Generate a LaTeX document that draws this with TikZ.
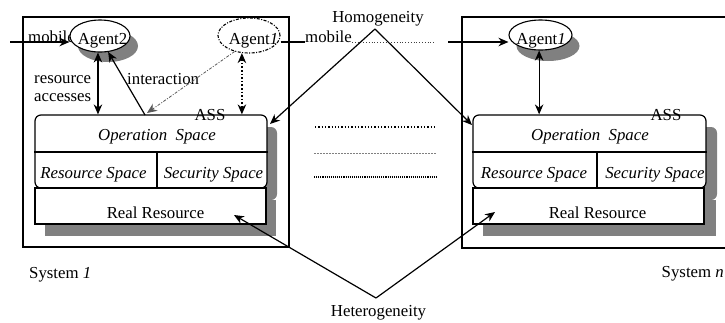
\documentclass[tikz,border=0pt]{standalone}
\usepackage{fontspec}
\setmainfont{Liberation Serif}
\usetikzlibrary{arrows.meta,shapes.geometric}

\begin{document}
\begin{tikzpicture}[x=1pt,y=-1pt,
  every node/.style={font=\fontsize{16.8}{19}\selectfont, inner sep=0pt},
  sysframe/.style={draw, line width=1.2pt},
  assbox/.style={draw, fill=white, rounded corners=6pt, line width=1.2pt},
  resbox/.style={draw, fill=white, line width=1.2pt},
  agentshape/.style={ellipse, draw, fill=white, line width=1.1pt},
  arr/.style={line width=1.2pt, -{Stealth[length=10pt,width=8.5pt]}},
  dbl/.style={line width=1.2pt, {Stealth[length=10pt,width=8.5pt]}-{Stealth[length=10pt,width=8.5pt]}},
  thin/.style={line width=0.8pt}
]
\useasboundingbox (0,0) rectangle (725,322);

% ---------- system frames ----------
\node[sysframe, minimum width=266pt, minimum height=230pt] (sys1) at (156,132) {};
\node[sysframe, minimum width=278pt, minimum height=231pt] (sysn) at (601,132.5) {};

% ---------- drop shadows ----------
\fill[gray, rounded corners=6pt] (45,127) rectangle (277,200);
\fill[gray] (45,200) rectangle (276,236);
\fill[gray, rounded corners=6pt] (483,127) rectangle (717,200);
\fill[gray] (483,200) rectangle (716,236);
\fill[gray] (108,46) ellipse [x radius=30, y radius=16];
\fill[gray] (548,46) ellipse [x radius=31.5, y radius=15];

% ---------- system 1 ----------
\node[assbox, minimum width=232pt, minimum height=73pt] (ass1) at (151,151.5) {};
\draw[line width=1.2pt] (ass1.west |- 0,152) -- (ass1.east |- 0,152);
\draw[line width=1.2pt] (157,152) -- (157,188);
\node[resbox, minimum width=231pt, minimum height=36pt] (rr1) at (150.5,206) {};
\node[anchor=base] (op1) at (157,140) {\itshape Operation\ \ Space};
\node[anchor=base] (rs1) at (93.5,178) {\itshape Resource Space};
\node[anchor=base] (ss1) at (213.5,178) {\itshape Security Space};
\node[anchor=base] (rl1) at (155.5,218) {Real Resource};
\node[anchor=base] (asslbl1) at (210,120) {ASS};

\node[anchor=base west] (mob1) at (28,42) {mobile};
\node[agentshape, minimum width=60pt, minimum height=32pt] (ag2) at (100,36) {};
\node[anchor=base] at (102.5,44) {Agent2};
\node[agentshape, draw=black, dash pattern=on 3pt off 1.5pt on 1pt off 1.5pt,
      minimum width=62pt, minimum height=35pt] (ag1) at (249,35.5) {};
\node[anchor=base] at (253.5,44.5) {Agent\textit{1}};

\node[anchor=base west] (ra1) at (34,83) {resource};
\node[anchor=base west] (ra2) at (34,101) {accesses};
\node[anchor=base west] (int1) at (127,84) {interaction};

\coordinate (in1) at (10,42);
\draw[arr] (in1) -- (in1 -| ag2.west);
\draw[dbl] (ag2.263) -- (ag2.263 |- ass1.north);
\coordinate (ia) at (145,115);
\draw[arr] (ia) -- (ag2.297);
\coordinate (ib) at (147,113);
\draw[thin, gray!70!black, dash pattern=on 3pt off 1.5pt on 1pt off 1.5pt,
      -{Stealth[length=10pt,width=8.5pt]}] (ag1.228) -- (ib);
\draw[line width=1.6pt, dotted, {Stealth[length=10pt,width=8.5pt]}-{Stealth[length=10pt,width=8.5pt]}]
      (ag1.248) -- (ag1.248 |- ass1.north);

\node[anchor=base west] (sl1) at (29,278) {System \textit{1}};

% ---------- system n ----------
\node[assbox, minimum width=233pt, minimum height=73pt] (assn) at (589.5,151.5) {};
\draw[line width=1.2pt] (assn.west |- 0,152) -- (assn.east |- 0,152);
\draw[line width=1.2pt] (597,152) -- (597,188);
\node[resbox, minimum width=231pt, minimum height=36pt] (rrn) at (588.5,206) {};
\node[anchor=base] (opn) at (590,140) {\itshape Operation\ \ Space};
\node[anchor=base] (rsn) at (534,178) {\itshape Resource Space};
\node[anchor=base] (ssn) at (655,178) {\itshape Security Space};
\node[anchor=base] (rln) at (597.5,218) {Real Resource};
\node[anchor=base] (asslbln) at (666,120) {ASS};

\node[agentshape, minimum width=63pt, minimum height=30pt] (ag1n) at (540.5,35) {};
\node[anchor=base] at (541,44) {Agent\textit{1}};
\draw[dbl] (ag1n.265) -- (ag1n.265 |- assn.north);

\node[anchor=base east] (sln) at (724,277) {System \textit{n}};

% ---------- migration of Agent1 ----------
\node[anchor=base west] (mob2) at (305,42) {mobile};
\coordinate (mv1) at (435,42);
\coordinate (mv2) at (448,42);
\draw[line width=1.1pt] (ag1.east |- mob2.base) -- (mob2.base west);
\draw[thin, gray!50!black, dotted] (mob2.base east) -- (mv1);
\draw[arr] (mv2) -- (mv2 -| ag1n.west);

% ---------- elided systems ----------
\coordinate (d1a) at (315,127); \coordinate (d1b) at (435,127);
\coordinate (d2a) at (314,153); \coordinate (d2b) at (436,153);
\coordinate (d3a) at (314,177); \coordinate (d3b) at (436,177);
\draw[line width=1.3pt, dotted] (d1a) -- (d1b);
\draw[line width=0.6pt, gray, dash pattern=on 2pt off 1pt] (d2a) -- (d2b);
\draw[line width=1.1pt, densely dotted] (d3a) -- (d3b);

% ---------- homogeneity / heterogeneity ----------
\node[anchor=base] (homo) at (378,22) {Homogeneity};
\coordinate (hapex) at (375,29);
\coordinate (h1) at (270,124);
\coordinate (h2) at (472,125);
\draw[arr] (hapex) -- (h1);
\draw[arr] (hapex) -- (h2);

\node[anchor=base] (hetero) at (378.5,316) {Heterogeneity};
\coordinate (tapex) at (376,298);
\coordinate (t1) at (234,215);
\coordinate (t2) at (495,212);
\draw[arr] (tapex) -- (t1);
\draw[arr] (tapex) -- (t2);
\end{tikzpicture}
\end{document}
